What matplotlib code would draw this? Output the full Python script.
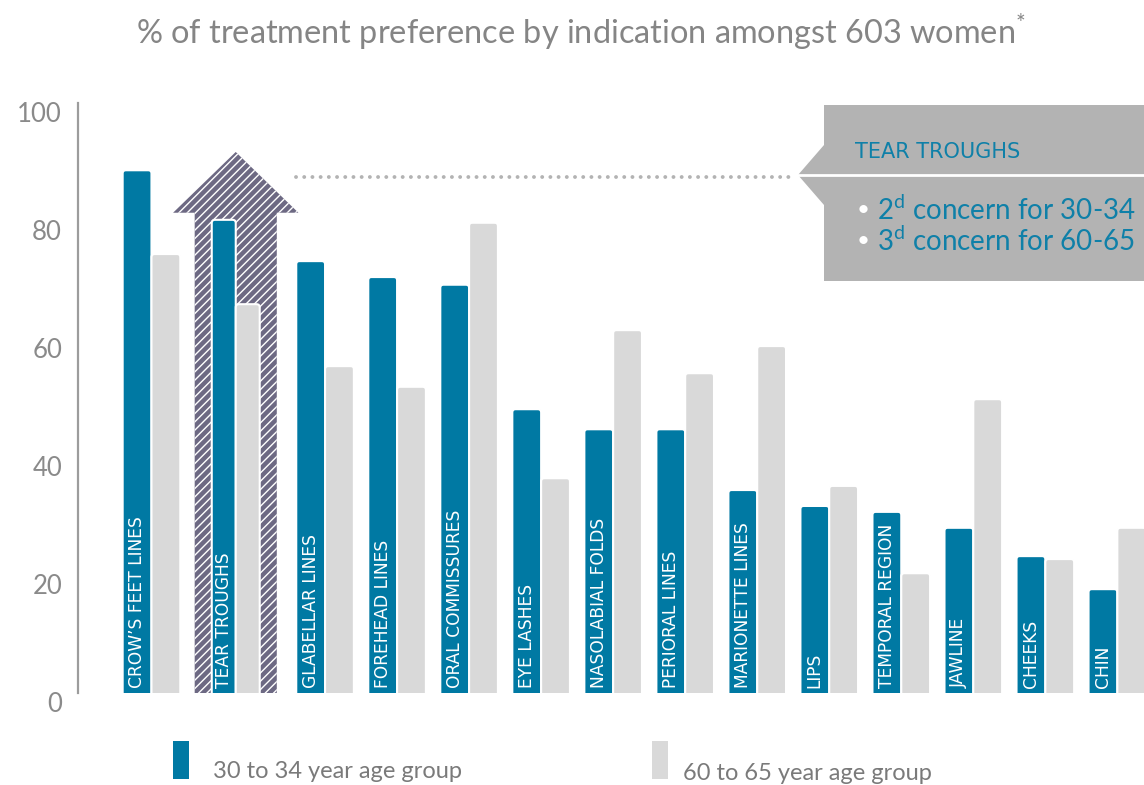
import numpy as np
import matplotlib
matplotlib.use("Agg")
from matplotlib import pyplot as plt
from matplotlib import transforms
from matplotlib.patches import Polygon, Rectangle, FancyBboxPatch

plt.rcParams["font.family"] = ["Lato", "DejaVu Sans"]
plt.rcParams["hatch.linewidth"] = 1.0
plt.rcParams["mathtext.fontset"] = "custom"
plt.rcParams["mathtext.rm"] = "Lato"

categories = ["CROW\u2019S FEET LINES", "TEAR TROUGHS", "GLABELLAR LINES", "FOREHEAD LINES",
              "ORAL COMMISSURES", "EYE LASHES", "NASOLABIAL FOLDS", "PERIORAL LINES",
              "MARIONETTE LINES", "LIPS", "TEMPORAL REGION", "JAWLINE", "CHEEKS", "CHIN"]
age_30_34 = [88.6, 80.2, 73.2, 70.5, 69.2, 48.1, 44.7, 44.7, 34.4, 31.7, 30.7, 28.0, 23.2, 17.6]
age_60_65 = [74.4, 65.9, 55.4, 51.9, 79.7, 36.4, 61.5, 54.2, 58.8, 35.1, 20.3, 49.8, 22.7, 28.0]
series_labels = ["30 to 34 year age group", "60 to 65 year age group"]
yticks = [0, 20, 40, 60, 80, 100]

TEAL = "#0079a3"
LIGHT = "#d9d9d9"
W, H = 1144, 785
NARROW = ["Liberation Sans Narrow", "DejaVu Sans"]


def fig_xy(px, py):
    return px / W, 1 - py / H


def round_tops(bars, radius=0.045, aspect=12.2, sink=1.5):
    # swap the plain rectangles for ones with rounded top corners
    for rect in list(bars):
        x0, w, h = rect.get_x(), rect.get_width(), rect.get_height()
        patch = FancyBboxPatch((x0, -sink), w, h + sink,
                               boxstyle=f"round,pad=0,rounding_size={radius}",
                               mutation_aspect=aspect, facecolor=rect.get_facecolor(),
                               edgecolor="white", linewidth=1.5, zorder=3)
        rect.remove()
        ax.add_patch(patch)


fig = plt.figure(figsize=(W / 100, H / 100), dpi=100)
ax = fig.add_axes([78 / W, (H - 693) / H, (W - 78) / W, 590 / H])

n = len(categories)
idx = np.arange(n)
x = idx + np.where(idx == 0, 0.0, np.where(idx == 1, 0.17, 0.41))
width = np.where(idx == 1, 0.333, 0.40)

round_tops(ax.bar(x - width, age_30_34, width=width, align="edge", color=TEAL))
round_tops(ax.bar(x, age_60_65, width=width, align="edge", color=LIGHT))

for xi, wi, lab in zip(x, width, categories):
    ax.text(xi - wi / 2, 0.9, lab, rotation=90, ha="center", va="bottom",
            color="white", fontsize=12.3, family=NARROW, zorder=4)

# highlight arrow behind the tear troughs group
tx, ty = x[1], age_30_34[1]
arrow = Polygon([(tx - 0.57, 0), (tx - 0.57, ty + 1.2), (tx - 0.87, ty + 1.2),
                 (tx, ty + 11.5), (tx + 0.87, ty + 1.2), (tx + 0.57, ty + 1.2),
                 (tx + 0.57, 0)], closed=True, facecolor="#6d6983",
                edgecolor="white", hatch="////", linewidth=0, zorder=2)
ax.add_patch(arrow)

ax.plot([2.0, 8.87], [87.5, 87.5], color="#b3b3b3", linewidth=2.8,
        linestyle=(0, (0.01, 2.1)), dash_capstyle="round", zorder=2)

ax.set_xlim(-1.02, 13.78)
ax.set_ylim(0, 100)
ax.set_yticks(yticks)
ax.set_xticks([])
ax.tick_params(axis="y", length=0, pad=11.5, labelsize=18.5, labelcolor="#8a8a8a")
shift = transforms.ScaledTranslation(0, -0.09, fig.dpi_scale_trans)
for lbl in ax.get_yticklabels():
    lbl.set_transform(lbl.get_transform() + shift)
for s in ["top", "right", "bottom"]:
    ax.spines[s].set_visible(False)
ax.spines["left"].set_color("#9c9c9c")
ax.spines["left"].set_linewidth(1.6)

# callout box
pts = [(824, 105), (1150, 105), (1150, 281), (824, 281), (824, 205), (798, 175), (824, 145)]
fig.patches.append(Polygon([fig_xy(*p) for p in pts], closed=True, transform=fig.transFigure,
                           facecolor="#b3b3b3", edgecolor="none", zorder=1))
fig.lines.append(plt.Line2D([798 / W, 1150 / W], [1 - 175 / H, 1 - 175 / H],
                            transform=fig.transFigure, color="white", linewidth=2))
fig.text(*fig_xy(855, 152), "TEAR TROUGHS", color="#0f80a8", fontsize=15,
         family=NARROW, va="center", ha="left")
for py, txt in [(210, "2$^{\\rm d}$ concern for 30-34"), (241, "3$^{\\rm d}$ concern for 60-65")]:
    fig.text(*fig_xy(857, py), "\u2022", color="white", fontsize=16, va="center", ha="left")
    fig.text(*fig_xy(877, py), txt, color="#0f80a8", fontsize=20, va="center", ha="left")

fig.text(*fig_xy(581, 32), "% of treatment preference by indication amongst 603 women$^{*}$",
         color="#858585", fontsize=23.4, ha="center", va="center")

# legend
for (rx, tx_, ty_), col, lab in zip([(173, 213, 771), (652, 683, 773)], [TEAL, LIGHT], series_labels):
    fig.patches.append(Rectangle(fig_xy(rx, 779), 16 / W, 38 / H, transform=fig.transFigure,
                                 facecolor=col, edgecolor="none"))
    fig.text(*fig_xy(tx_, ty_), lab, color="#7a7a7a", fontsize=17, ha="left", va="center")

fig.savefig("out.png", dpi=100)
